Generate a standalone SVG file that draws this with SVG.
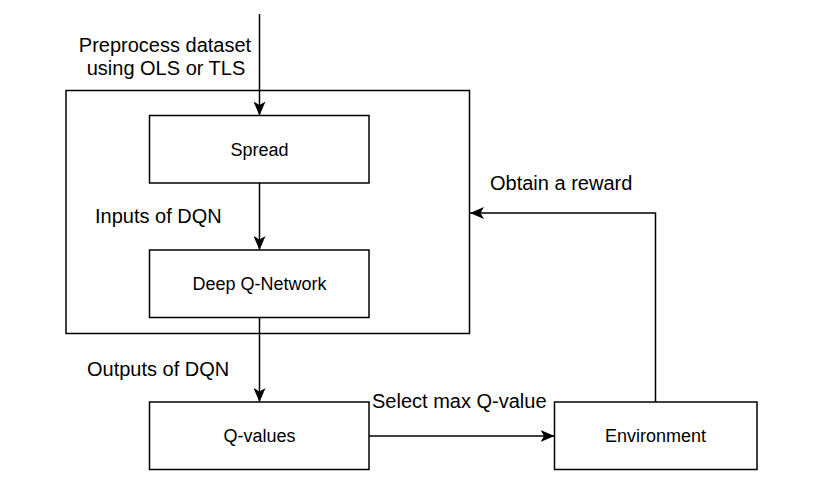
<svg xmlns="http://www.w3.org/2000/svg" width="816" height="504" viewBox="0 0 816 504">
<style>
.box{fill:#fff;stroke:#000;stroke-width:1.5}
.frame{fill:none;stroke:#000;stroke-width:1.5}
.ln{fill:none;stroke:#000;stroke-width:1.5;marker-end:url(#ah)}
.nt{font-family:"Liberation Sans",Arial,sans-serif;font-size:18px;fill:#000;text-anchor:middle}
.lb{font-family:"Liberation Sans",Arial,sans-serif;font-size:20px;fill:#000}
</style>
<defs>
<marker id="ah" markerUnits="userSpaceOnUse" markerWidth="14" markerHeight="12" refX="14" refY="6" orient="auto">
<path d="M0,0 L14,6 L0,12 L3.5,6 z" fill="#000"/>
</marker>
</defs>
<rect width="816" height="504" fill="#fff"/>
<g id="frame"><rect class="frame" x="66" y="90.5" width="403.5" height="243"/></g>
<g id="connectors">
<path class="ln" d="M259.5,14 V115.5"/>
<path class="ln" d="M259.5,183 V250"/>
<path class="ln" d="M259.5,317.5 V402"/>
<path class="ln" d="M369,436 H554.5"/>
<path class="ln" d="M655.5,402 V213 H470"/>
</g>
<g id="spread"><rect class="box" x="149.5" y="115.5" width="219.5" height="67.5"/><text class="nt" x="259.5" y="156">Spread</text></g>
<g id="dqn"><rect class="box" x="149.5" y="250" width="219.5" height="67.5"/><text class="nt" x="259.5" y="290">Deep Q-Network</text></g>
<g id="qvalues"><rect class="box" x="149.5" y="402" width="219.5" height="67.5"/><text class="nt" x="259.5" y="442">Q-values</text></g>
<g id="environment"><rect class="box" x="554.5" y="402" width="202.5" height="67.5"/><text class="nt" x="655.5" y="442">Environment</text></g>
<g id="labels">
<text class="lb" x="165" y="52" text-anchor="middle">Preprocess dataset</text>
<text class="lb" x="166" y="75" text-anchor="middle">using OLS or TLS</text>
<text class="lb" x="95" y="223">Inputs of DQN</text>
<text class="lb" x="87" y="376">Outputs of DQN</text>
<text class="lb" x="372" y="408">Select max Q-value</text>
<text class="lb" x="490" y="190">Obtain a reward</text>
</g>
</svg>
